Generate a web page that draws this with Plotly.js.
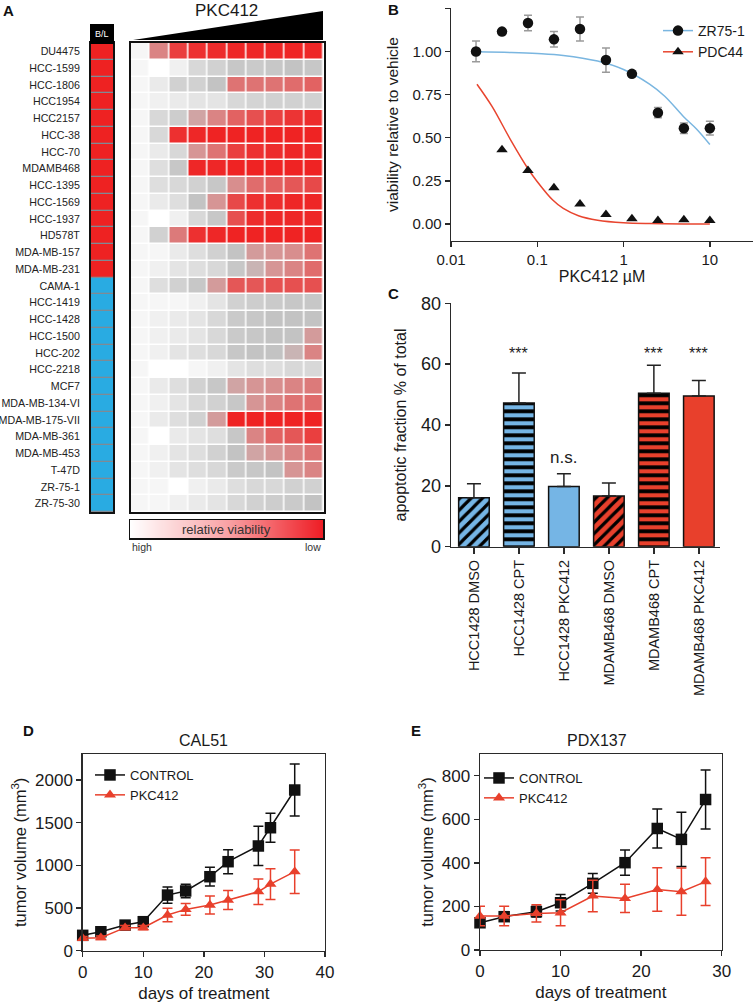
<!DOCTYPE html>
<html><head><meta charset="utf-8">
<script src="https://cdn.plot.ly/plotly-3.0.1.min.js"></script>
<style>html,body{margin:0;padding:0;background:#fff}#chart{width:755px;height:1003px}</style>
</head><body><div id="chart"></div>
<script>
// ---------------- DATA ----------------
// Panel A: cell lines, subtype (1 = basal, 0 = luminal), dose steps, response (0 = high viability, 1 = low viability)
const cellLines = ['DU4475','HCC-1599','HCC-1806','HCC1954','HCC2157','HCC-38','HCC-70','MDAMB468','HCC-1395','HCC-1569','HCC-1937','HD578T','MDA-MB-157','MDA-MB-231','CAMA-1','HCC-1419','HCC-1428','HCC-1500','HCC-202','HCC-2218','MCF7','MDA-MB-134-VI','MDA-MB-175-VII','MDA-MB-361','MDA-MB-453','T-47D','ZR-75-1','ZR-75-30'];
const subtype = [1,1,1,1,1,1,1,1,1,1,1,1,1,1,0,0,0,0,0,0,0,0,0,0,0,0,0,0];
const doseSteps = [1,2,3,4,5,6,7,8,9,10];
const viabilityLoss = [
  [0.05,0.65,0.85,0.9,0.92,0.95,0.95,0.95,0.96,0.95],
  [0.05,0.0,0.1,0.3,0.35,0.42,0.4,0.42,0.45,0.42],
  [0.05,0.15,0.35,0.35,0.45,0.7,0.7,0.7,0.72,0.75],
  [0.05,0.1,0.15,0.2,0.2,0.3,0.33,0.35,0.35,0.35],
  [0.05,0.3,0.38,0.55,0.65,0.75,0.8,0.85,0.88,0.92],
  [0.05,0.3,0.9,0.95,0.97,0.97,0.97,0.97,0.97,0.97],
  [0.05,0.15,0.3,0.6,0.7,0.85,0.9,0.92,0.95,0.95],
  [0.05,0.25,0.42,0.95,0.95,0.97,0.97,0.97,0.97,0.97],
  [0.05,0.25,0.3,0.35,0.42,0.62,0.72,0.75,0.78,0.82],
  [0.05,0.15,0.25,0.45,0.6,0.82,0.9,0.92,0.95,0.95],
  [0.05,0.0,0.1,0.3,0.42,0.8,0.92,0.95,0.95,0.95],
  [0.05,0.35,0.68,0.9,0.95,0.97,0.97,0.97,0.97,0.97],
  [0.05,0.05,0.15,0.25,0.35,0.45,0.58,0.6,0.62,0.7],
  [0.05,0.1,0.2,0.25,0.3,0.42,0.5,0.6,0.65,0.72],
  [0.05,0.25,0.35,0.42,0.58,0.78,0.78,0.8,0.8,0.8],
  [0.05,0.05,0.05,0.1,0.2,0.35,0.38,0.4,0.42,0.42],
  [0.05,0.1,0.15,0.2,0.3,0.4,0.42,0.45,0.45,0.45],
  [0.05,0.1,0.15,0.2,0.3,0.4,0.42,0.45,0.45,0.58],
  [0.05,0.1,0.2,0.25,0.3,0.42,0.45,0.45,0.5,0.65],
  [0.05,0.0,0.0,0.05,0.1,0.2,0.25,0.25,0.3,0.3],
  [0.05,0.15,0.25,0.35,0.42,0.55,0.6,0.62,0.65,0.68],
  [0.05,0.1,0.2,0.3,0.35,0.42,0.6,0.65,0.7,0.72],
  [0.05,0.15,0.25,0.35,0.58,0.97,0.97,0.97,0.97,0.97],
  [0.05,0.0,0.15,0.2,0.25,0.42,0.65,0.75,0.78,0.85],
  [0.05,0.1,0.2,0.25,0.35,0.45,0.55,0.6,0.65,0.7],
  [0.05,0.1,0.2,0.25,0.3,0.4,0.42,0.45,0.6,0.65],
  [0.05,0.05,0.0,0.1,0.15,0.25,0.3,0.3,0.35,0.35],
  [0.05,0.05,0.1,0.15,0.2,0.3,0.35,0.38,0.4,0.45]
];
const rampValues = [[0,1],[0,1]];

// Panel B
const doses = [0.0195,0.039,0.078,0.156,0.3125,0.625,1.25,2.5,5,10];
const zr751 = [1.00,1.115,1.165,1.07,1.13,0.95,0.87,0.645,0.555,0.555];
const zr751Err = [0.06,0,0.045,0.045,0.07,0.07,0,0.03,0.03,0.04];
const pdc44Doses = [0.039,0.078,0.156,0.3125,0.625,1.25,2.5,5,10];
const pdc44 = [0.43,0.31,0.21,0.115,0.055,0.03,0.02,0.025,0.02];
const zrFitX = [0.02,0.05,0.1,0.2,0.5,1,2,3,5,7,10];
const zrFitY = [0.998,0.994,0.988,0.977,0.944,0.895,0.81,0.74,0.62,0.55,0.46];
const pdcFitX = [0.02,0.03,0.05,0.078,0.1,0.15,0.2,0.3,0.5,1,2,5,10];
const pdcFitY = [0.81,0.68,0.48,0.32,0.245,0.14,0.09,0.048,0.022,0.007,0.002,0,0];

// Panel C
const conditions = ['HCC1428 DMSO','HCC1428 CPT','HCC1428 PKC412','MDAMB468 DMSO','MDAMB468 CPT','MDAMB468 PKC412'];
const apoptotic = [16.1,47.2,19.8,16.7,50.4,49.5];
const apoptoticErr = [4.6,9.9,4.2,4.2,9.2,5.1];
const significance = ['','***','n.s.','','***','***'];

// Panel D
const calDays = [0,3,7,10,14,17,21,24,29,31,35];
const calControl = [180,222,300,340,652,700,867,1043,1227,1441,1883];
const calControlErr = [20,25,30,35,95,80,110,140,230,170,305];
const calPkc = [145,152,270,270,418,484,535,594,691,781,926];
const calPkcErr = [20,20,25,25,80,70,105,110,150,180,255];

// Panel E
const pdxDays = [0,3,7,10,14,18,22,25,28];
const pdxControl = [125,153,176,217,306,401,558,508,691];
const pdxControlErr = [15,20,25,38,45,58,90,125,135];
const pdxPkc = [156,156,168,171,248,237,278,268,314];
const pdxPkcErr = [45,45,40,60,72,65,100,108,110];

// ---------------- STYLE ----------------
const W = 755, H = 1003;
const px = v => v / W, py = v => 1 - v / H;
const FONT = 'Liberation Sans, Arial, Helvetica, sans-serif';
const INK = '#1a1a1a';
const RED = '#e8402c', BLUE = '#75b5e5', BLACK = '#111111';
const heatScale = [[0,'#ffffff'],[0.05,'#f6f6f6'],[0.15,'#eaeaea'],[0.3,'#d8d8d8'],[0.45,'#c3c3c3'],[0.6,'#d69595'],[0.75,'#e26262'],[0.88,'#ec3434'],[1,'#f01d1d']];
const rowIdx = cellLines.map((_, i) => i);
const barFill = [BLUE,BLUE,BLUE,RED,RED,RED];
const barShape = ['/','-','','/','-',''];
const barSolidity = [0.4,0.48,0.3,0.4,0.48,0.3];

const noAxis = {showgrid:false, zeroline:false, showticklabels:false, ticks:'', fixedrange:true};
const boxLine = {showline:true, mirror:true, linecolor:BLACK, linewidth:2};

const traces = [];
// A heatmap
traces.push({type:'heatmap', z:viabilityLoss, x:doseSteps, y:rowIdx, xaxis:'x', yaxis:'y',
  colorscale:heatScale, zmin:0, zmax:1, showscale:false, xgap:1.5, ygap:1.5, hoverinfo:'skip'});
// A subtype bar
traces.push({type:'heatmap', z:subtype.map(v=>[v]), x:[0], y:rowIdx, xaxis:'x2', yaxis:'y2',
  colorscale:[[0,'#29abe2'],[1,'#ee2222']], zmin:0, zmax:1, showscale:false, ygap:1.3, hoverinfo:'skip'});
// A gradient legend
traces.push({type:'heatmap', z:rampValues, x:[0,1], y:[0,1], xaxis:'x3', yaxis:'y3', zsmooth:'best',
  colorscale:[[0,'#ffffff'],[0.5,'#f9a3a6'],[1,'#ee1c24']], showscale:false, hoverinfo:'skip'});

// B
traces.push({type:'scatter', mode:'lines', x:zrFitX, y:zrFitY, xaxis:'x4', yaxis:'y4', line:{color:'#7ab6e0', width:1.5, shape:'spline'}, showlegend:false});
traces.push({type:'scatter', mode:'lines', x:pdcFitX, y:pdcFitY, xaxis:'x4', yaxis:'y4', line:{color:'#e8452f', width:1.5, shape:'spline'}, showlegend:false});
traces.push({type:'scatter', mode:'markers', x:doses, y:zr751, xaxis:'x4', yaxis:'y4', cliponaxis:false,
  marker:{symbol:'circle', size:10.5, color:BLACK}, error_y:{type:'data', array:zr751Err, color:'#9a9a9a', thickness:1.5, width:4}, showlegend:false});
traces.push({type:'scatter', mode:'markers', x:pdc44Doses, y:pdc44, xaxis:'x4', yaxis:'y4', cliponaxis:false,
  marker:{symbol:'triangle-up', size:10, color:BLACK}, showlegend:false});
traces.push({type:'scatter', mode:'lines+markers', x:[null], y:[null], xaxis:'x4', yaxis:'y4', name:'ZR75-1', legend:'legend',
  line:{color:'#7ab6e0', width:1.5}, marker:{symbol:'circle', size:10.5, color:BLACK}});
traces.push({type:'scatter', mode:'lines+markers', x:[null], y:[null], xaxis:'x4', yaxis:'y4', name:'PDC44', legend:'legend',
  line:{color:'#e8452f', width:1.5}, marker:{symbol:'triangle-up', size:10, color:BLACK}});

// C: one bar trace per condition (scalar pattern styles)
conditions.forEach((c, i) => {
  const patterned = barShape[i] !== '';
  traces.push({type:'bar', x:[c], y:[apoptotic[i]], xaxis:'x5', yaxis:'y5', width:0.68, showlegend:false,
    marker: patterned
      ? {color:'#000000', line:{color:BLACK, width:1.5},
         pattern:{shape:barShape[i], fgcolor:'#000000', bgcolor:barFill[i], fgopacity:1, size:8, solidity:barSolidity[i], fillmode:'replace'}}
      : {color:barFill[i], line:{color:BLACK, width:1.5}},
    error_y:{type:'data', symmetric:false, array:[apoptoticErr[i]], arrayminus:[0], color:'#222', thickness:1.5, width:7}});
});

// D
traces.push({type:'scatter', mode:'lines+markers', x:calDays, y:calControl, xaxis:'x6', yaxis:'y6', name:'CONTROL', legend:'legend2', cliponaxis:false,
  line:{color:BLACK, width:1.5}, marker:{symbol:'square', size:11.5, color:BLACK},
  error_y:{type:'data', array:calControlErr, color:BLACK, thickness:1.5, width:5}});
traces.push({type:'scatter', mode:'lines+markers', x:calDays, y:calPkc, xaxis:'x6', yaxis:'y6', name:'PKC412', legend:'legend2', cliponaxis:false,
  line:{color:RED, width:1.5}, marker:{symbol:'triangle-up', size:10.5, color:RED},
  error_y:{type:'data', array:calPkcErr, color:RED, thickness:1.5, width:5}});
// E
traces.push({type:'scatter', mode:'lines+markers', x:pdxDays, y:pdxControl, xaxis:'x7', yaxis:'y7', name:'CONTROL', legend:'legend3', cliponaxis:false,
  line:{color:BLACK, width:1.5}, marker:{symbol:'square', size:11.5, color:BLACK},
  error_y:{type:'data', array:pdxControlErr, color:BLACK, thickness:1.5, width:5}});
traces.push({type:'scatter', mode:'lines+markers', x:pdxDays, y:pdxPkc, xaxis:'x7', yaxis:'y7', name:'PKC412', legend:'legend3', cliponaxis:false,
  line:{color:RED, width:1.5}, marker:{symbol:'triangle-up', size:10.5, color:RED},
  error_y:{type:'data', array:pdxPkcErr, color:RED, thickness:1.5, width:5}});

const axLine = {showline:true, linecolor:'#2a2a2a', linewidth:1.4, ticks:'outside', ticklen:5, tickwidth:1.4, tickcolor:'#2a2a2a', showgrid:false, zeroline:false, fixedrange:true};

const layout = {
  width:W, height:H, autosize:false, margin:{l:0,r:0,t:0,b:0},
  paper_bgcolor:'#ffffff', plot_bgcolor:'#ffffff',
  font:{family:FONT, color:INK, size:13},
  showlegend:true, barmode:'overlay',
  // A
  xaxis:Object.assign({}, noAxis, boxLine, {domain:[px(130.5),px(323.5)], range:[0.5,10.5], anchor:'y'}),
  yaxis:Object.assign({}, noAxis, boxLine, {domain:[py(512),py(43)], range:[27.5,-0.5], anchor:'x'}),
  xaxis2:Object.assign({}, noAxis, boxLine, {domain:[px(91),px(113)], range:[-0.5,0.5], anchor:'y2'}),
  yaxis2:Object.assign({}, boxLine, {domain:[py(512),py(43)], range:[27.5,-0.5], anchor:'x2', showgrid:false, zeroline:false, fixedrange:true,
    tickvals:rowIdx, ticktext:cellLines, ticks:'outside', ticklen:7, tickcolor:'rgba(0,0,0,0)', tickfont:{size:10.7, color:'#222'}}),
  xaxis3:Object.assign({}, noAxis, {domain:[px(130),px(323)], range:[0,1], anchor:'y3', showline:true, mirror:true, linecolor:BLACK, linewidth:1.5}),
  yaxis3:Object.assign({}, noAxis, {domain:[py(538),py(520)], range:[0,1], anchor:'x3', showline:true, mirror:true, linecolor:BLACK, linewidth:1.5}),
  // B
  xaxis4:Object.assign({}, axLine, {type:'log', domain:[px(451),px(753)], range:[-2,1.5], anchor:'y4',
    tickvals:[0.01,0.1,1,10], ticktext:['0.01','0.1','1','10'], tickfont:{size:15},
    title:{text:'PKC412 µM', font:{size:16}, standoff:2}}),
  yaxis4:Object.assign({}, axLine, {domain:[py(240.7),py(8.3)], range:[-0.097,1.25], anchor:'x4',
    tickvals:[0,0.25,0.5,0.75,1,1.25], tickformat:'.2f', tickfont:{size:15},
    title:{text:'viability relative to vehicle', font:{size:15.5}, standoff:10}}),
  // C
  xaxis5:Object.assign({}, axLine, {type:'category', categoryorder:'array', categoryarray:conditions, domain:[px(451),px(720)], range:[-0.51,5.47], anchor:'y5',
    tickangle:-90, tickfont:{size:14.5}, ticklen:6}),
  yaxis5:Object.assign({}, axLine, {domain:[py(546.7),py(303.3)], range:[0,80], dtick:20, anchor:'x5', tickfont:{size:18},
    title:{text:'apoptotic fraction % of total', font:{size:16}, standoff:10}}),
  // D
  xaxis6:Object.assign({}, axLine, {domain:[px(82.7),px(325)], range:[0,40], dtick:10, anchor:'y6', mirror:true, tickfont:{size:17},
    title:{text:'days of treatment', font:{size:17}, standoff:6}}),
  yaxis6:Object.assign({}, axLine, {domain:[py(950.7),py(754)], range:[0,2305], tickvals:[0,500,1000,1500,2000], anchor:'x6', mirror:true, tickfont:{size:17},
    title:{text:'tumor volume (mm<sup>3</sup>)', font:{size:16.5}, standoff:4}}),
  // E
  xaxis7:Object.assign({}, axLine, {domain:[px(480),px(721.7)], range:[0,30], dtick:10, anchor:'y7', mirror:true, tickfont:{size:17},
    title:{text:'days of treatment', font:{size:17}, standoff:6}}),
  yaxis7:Object.assign({}, axLine, {domain:[py(950),py(754)], range:[0,900], dtick:200, anchor:'x7', mirror:true, tickfont:{size:17},
    title:{text:'tumor volume (mm<sup>3</sup>)', font:{size:16.5}, standoff:4}}),
  legend:{x:px(658), y:py(15), xanchor:'left', yanchor:'top', font:{size:14}, bgcolor:'rgba(0,0,0,0)', borderwidth:0, tracegroupgap:0},
  legend2:{x:px(90), y:py(760), xanchor:'left', yanchor:'top', font:{size:13}, bgcolor:'rgba(0,0,0,0)', borderwidth:0},
  legend3:{x:px(479), y:py(763), xanchor:'left', yanchor:'top', font:{size:13}, bgcolor:'rgba(0,0,0,0)', borderwidth:0},
  shapes:[
    {type:'rect', xref:'paper', yref:'paper', x0:px(91), x1:px(113), y0:py(512), y1:py(43), fillcolor:'#808a94', line:{width:0}, layer:'below'},
    {type:'rect', xref:'paper', yref:'paper', x0:px(90), x1:px(114), y0:py(44), y1:py(24), fillcolor:'#000', line:{width:0}},
    {type:'path', xref:'paper', yref:'paper', path:`M ${px(133)} ${py(40)} L ${px(323)} ${py(11)} L ${px(323)} ${py(40)} Z`, fillcolor:'#000', line:{width:0}}
  ],
  annotations:[
    {text:'<b>A</b>', x:px(8), y:py(10)},
    {text:'<b>B</b>', x:px(394), y:py(9)},
    {text:'<b>C</b>', x:px(394), y:py(294)},
    {text:'<b>D</b>', x:px(28.5), y:py(730)},
    {text:'<b>E</b>', x:px(416), y:py(730)},
  ].map(a=>Object.assign(a,{xref:'paper', yref:'paper', showarrow:false, font:{size:15, color:'#111'}, xanchor:'center', yanchor:'middle'}))
  .concat([
    {text:'PKC412', x:px(226), y:py(10), font:{size:17}},
    {text:'B/L', x:px(102), y:py(34.5), font:{size:9, color:'#ffffff'}},
    {text:'relative viability', x:px(226.5), y:py(529), font:{size:13, color:'#333'}},
    {text:'CAL51', x:px(203), y:py(740), font:{size:16}},
    {text:'PDX137', x:px(597), y:py(740), font:{size:16}},
  ].map(a=>Object.assign(a,{xref:'paper', yref:'paper', showarrow:false, xanchor:'center', yanchor:'middle'})))
  .concat([
    {text:'high', x:px(130), y:py(547), xanchor:'left', font:{size:10.5, color:'#333'}},
    {text:'low', x:px(323), y:py(547), xanchor:'right', font:{size:10.5, color:'#333'}},
  ].map(a=>Object.assign(a,{xref:'paper', yref:'paper', showarrow:false, yanchor:'middle'})))
  .concat(conditions.map((c,i)=>({text:significance[i], x:c, y: significance[i]==='n.s.' ? 29.3 : 63.5, xref:'x5', yref:'y5',
    showarrow:false, xanchor:'center', yanchor:'middle', font:{size:significance[i]==='n.s.'?17:16, color:'#222'}})).filter(a=>a.text))
};

Plotly.newPlot('chart', traces, layout, {staticPlot:true, displayModeBar:false});
</script></body></html>
